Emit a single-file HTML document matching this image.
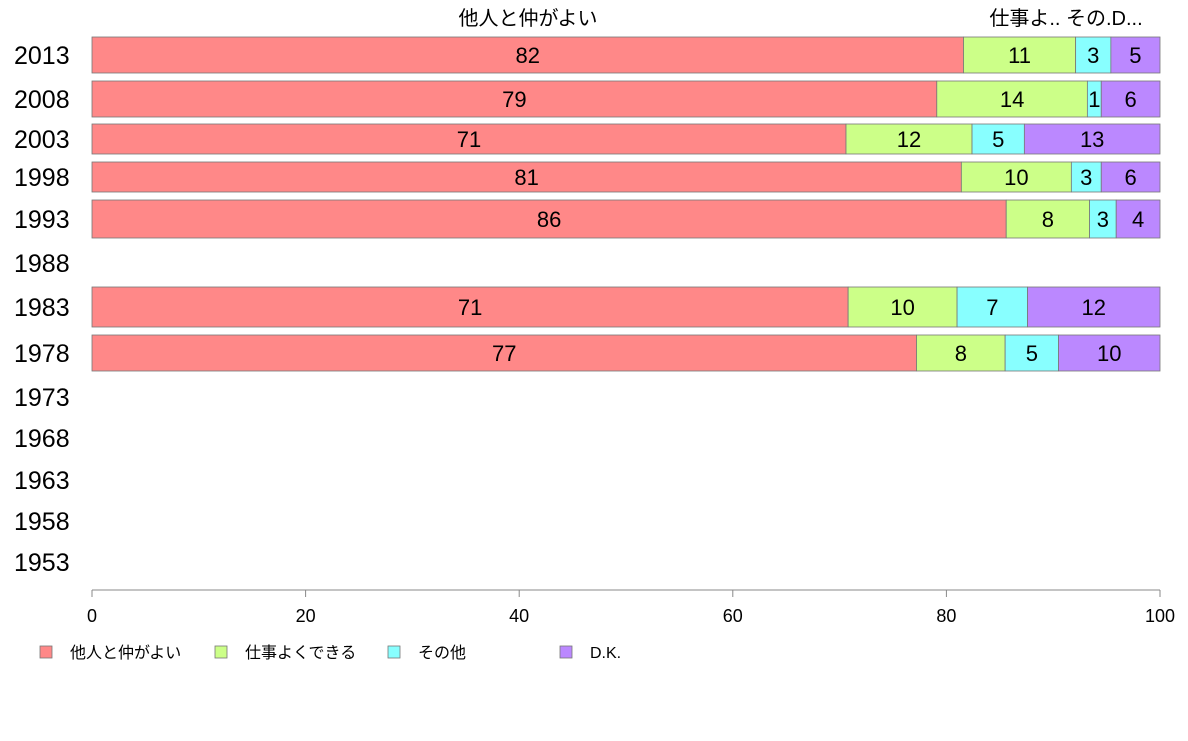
<!DOCTYPE html>
<html><head><meta charset="utf-8">
<style>
body{margin:0;background:#fff;}
svg text{font-family:"Liberation Sans","Noto Sans CJK JP",sans-serif;}
</style></head>
<body>
<svg id="chart" width="1188" height="736" xmlns="http://www.w3.org/2000/svg"></svg>
<script>
const years = ["2013","2008","2003","1998","1993","1988","1983","1978","1973","1968","1963","1958","1953"];
const seriesNames = ["他人と仲がよい","仕事よくできる","その他","D.K."];
const s1 = [81.6,79.1,70.6,81.4,85.6,null,70.8,77.2,null,null,null,null,null];
const s2 = [10.5,14.1,11.8,10.3,7.8,null,10.2,8.3,null,null,null,null,null];
const s3 = [3.3,1.3,4.9,2.8,2.5,null,6.6,5.0,null,null,null,null,null];
const s4 = [4.6,5.5,12.7,5.5,4.1,null,12.4,9.5,null,null,null,null,null];
const xTicks = [0,20,40,60,80,100];
// layout (not data): row centres and bar heights in px
const rowY = [55,99,139,177,219,263,307,353,397,438,480,521,562];
const rowH = [36,36,30,30,38,0,40,36,0,0,0,0,0];
const colors = ["#FF8888","#CCFF88","#88FFFF","#BB88FF"];
const NS="http://www.w3.org/2000/svg";
const svg=document.getElementById('chart');
const x0=92,x1=1160;
const xs=v=>x0+(x1-x0)*v/100;
function mk(tag,attrs,parent){const e=document.createElementNS(NS,tag);for(const k in attrs)e.setAttribute(k,attrs[k]);(parent||svg).appendChild(e);return e;}
const series=[s1,s2,s3,s4];
years.forEach((y,i)=>{
  const t=mk('text',{x:14,y:rowY[i]+9,'font-size':25,fill:'#000'});
  
  
  t.textContent=y;
  if(s1[i]==null)return;
  let cum=0;
  series.forEach((s,k)=>{
    const v=s[i];
    const r=mk('rect',{x:xs(cum),y:rowY[i]-rowH[i]/2,width:xs(cum+v)-xs(cum),height:rowH[i],fill:colors[k],stroke:'#777','stroke-width':0.8});
    
    
    const lt=mk('text',{x:xs(cum+v/2),y:rowY[i]+8,'font-size':22,'text-anchor':'middle',fill:'#000'});
    
    
    lt.textContent=Math.round(v);
    cum+=v;
  });
});
// top labels
const tl=mk('text',{x:528,y:25,'font-size':20,'text-anchor':'middle'});


tl.textContent="他人と仲がよい";
const tl2=mk('text',{x:1066,y:25,'font-size':20,'text-anchor':'middle'});


tl2.textContent="仕事よ.. その.D...";
// axis
const ax=mk('line',{x1:x0,y1:590,x2:x1,y2:590,stroke:'#888'});


xTicks.forEach(v=>{
  const tk=mk('line',{x1:xs(v),y1:590,x2:xs(v),y2:597,stroke:'#888'});
  
  
  const tt=mk('text',{x:xs(v),y:622,'font-size':18,'text-anchor':'middle'});
  
  
  tt.textContent=v;
});
// legend
const legX=[40,215,388,560];
seriesNames.forEach((n,k)=>{
  const g=mk('g',{});
  
  
  mk('rect',{x:legX[k],y:646,width:12,height:12,fill:colors[k],stroke:'#777','stroke-width':0.8},g);
  const t=mk('text',{x:legX[k]+30,y:658,'font-size':16},g);
  t.textContent=n;
});
</script>
</body></html>
